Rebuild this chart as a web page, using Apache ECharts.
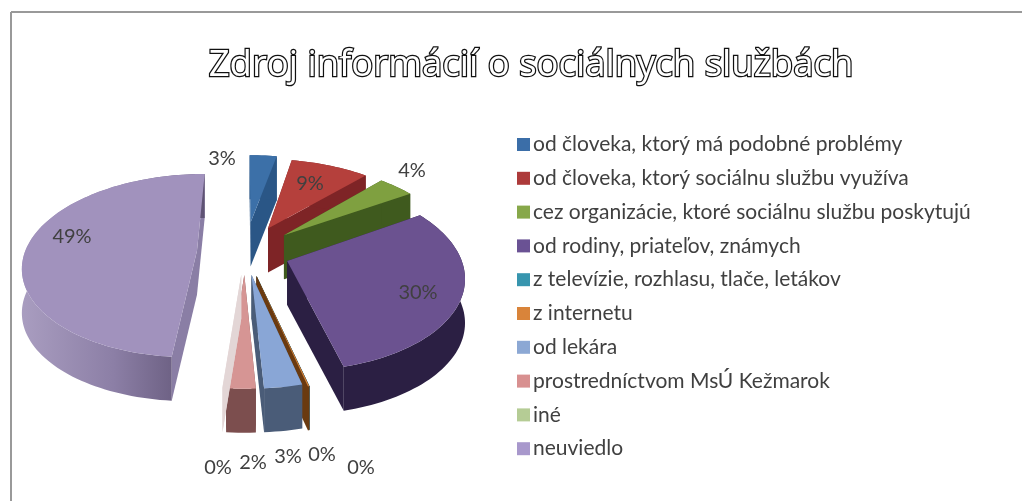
<!DOCTYPE html>
<html>
<head>
<meta charset="utf-8">
<style>html,body{margin:0;padding:0;background:#fff}#main{width:1022px;height:501px}</style>
<script src="https://cdn.jsdelivr.net/npm/echarts@6/dist/echarts.min.js"></script>
</head>
<body>
<div id="main"></div>
<script>
var chartTitle = 'Zdroj informácií o sociálnych službách';
var categories = [
	'od človeka, ktorý má podobné problémy',
	'od človeka, ktorý sociálnu službu využíva',
	'cez organizácie, ktoré sociálnu službu poskytujú',
	'od rodiny, priateľov, známych',
	'z televízie, rozhlasu, tlače, letákov',
	'z internetu',
	'od lekára',
	'prostredníctvom MsÚ Kežmarok',
	'iné',
	'neuviedlo'
];
var shares = [3.2, 9, 4, 29.8, 0.01, 0.1, 3, 2.3, 0.01, 48.6];
var colors = ['#3C70A8', '#B5403C', '#7FA040', '#6B5290', '#3795AE', '#D9843A', '#89A6D6', '#D69594', '#E3D6D6', '#A192BD'];
var legendColors = ['#3B6EA8', '#AD3A3A', '#87A84A', '#6A5294', '#3795AE', '#D9843A', '#8CA8D4', '#D89090', '#B5CC95', '#A898CC'];
var wallColors = ['#2A5686', '#7E2426', '#3F5A1E', '#2B1F43', '#1F5A6A', '#6A3A10', '#4A5C78', '#7C4E4E', '#E3D6D6', '#8A7EA5'];
var explodes = [0.34, 0.3, 0.3, 0.26, 0.26, 0.26, 0.24, 0.24, 0.24, 0.28];
var labelSpots = [[222, 159], [310, 184], [412, 171], [418, 293], [361, 468], [322, 455], [288, 457], [253, 463], [218, 468], [72, 237]];

// tilted disc, drawn by hand because ECharts has no 3d pie without the gl add-on
var pie = {cx: 245, cy: 252, a: 172, b: 92, persp: 0.16, depth: 44};
var total = shares.reduce(function(s, v) { return s + v; }, 0);

function project(x, y) {
	var f = 1 + pie.persp * y;
	return [pie.cx + pie.a * x * f, pie.cy + pie.b * y * f];
}

function lower(p) {
	return [p[0], p[1] + pie.depth];
}

function poly(points, fill) {
	return {type: 'polygon', shape: {points: points}, style: {fill: fill, stroke: null}};
}

function renderSlice(params, api) {
	var from = api.value(0) / total * Math.PI * 2;
	var to = api.value(1) / total * Math.PI * 2;
	var mid = (from + to) / 2;
	var idx = params.seriesIndex;
	var ox = explodes[idx] * Math.sin(mid);
	var oy = -explodes[idx] * Math.cos(mid);
	var tip = project(ox, oy);
	var arc = [];
	var steps = Math.max(2, Math.ceil((to - from) / 0.03));
	for (var i = 0; i <= steps; i++) {
		var t = from + (to - from) * i / steps;
		arc.push(project(ox + Math.sin(t), oy - Math.cos(t)));
	}
	var outerFill = wallColors[idx];
	if (idx === 9) {
		outerFill = new echarts.graphic.LinearGradient(0, 0, 1, 0, [
			{offset: 0, color: '#A99DC0'},
			{offset: 0.5, color: '#8C7FA6'},
			{offset: 1, color: '#5E5273'}
		]);
	}
	var first = arc[0];
	var last = arc[arc.length - 1];
	return {
		type: 'group',
		children: [
			poly([tip, first, lower(first), lower(tip)], wallColors[idx]),
			poly([tip, last, lower(last), lower(tip)], wallColors[idx]),
			poly(arc.concat(arc.map(lower).reverse()), outerFill),
			poly([tip].concat(arc), colors[idx]),
			{
				type: 'text',
				z2: 5,
				style: {
					text: Math.round(api.value(2)) + '%',
					x: labelSpots[idx][0],
					y: labelSpots[idx][1],
					align: 'center',
					verticalAlign: 'middle',
					fill: '#404040',
					font: '20px Lato'
				}
			}
		]
	};
}

var seriesList = [];
var sum = 0;
categories.forEach(function(name, i) {
	seriesList.push({
		name: name,
		type: 'custom',
		coordinateSystem: 'none',
		renderItem: renderSlice,
		animation: false,
		silent: true,
		itemStyle: {color: legendColors[i]},
		data: [[sum, sum + shares[i], shares[i]]]
	});
	sum += shares[i];
});

var myChart = echarts.init(document.getElementById('main'));
myChart.setOption({
	backgroundColor: '#fff',
	animation: false,
	title: {
		text: chartTitle,
		left: 526,
		top: 42,
		textAlign: 'center',
		textStyle: {
			fontFamily: 'Open Sans',
			fontSize: 36.5,
			fontWeight: 'normal',
			color: '#fff',
			textBorderColor: '#111',
			textBorderWidth: 2.5
		}
	},
	legend: {
		orient: 'vertical',
		left: 512,
		top: 129,
		itemWidth: 13,
		itemHeight: 13,
		itemGap: 12.8,
		icon: 'rect',
		selectedMode: false,
		textStyle: {
			fontFamily: 'Lato',
			fontSize: 21,
			color: '#404040',
			padding: [0, 0, 0, -2],
			height: 21,
			lineHeight: 21
		},
		data: categories
	},
	graphic: [
		{type: 'line', shape: {x1: 11, y1: 12, x2: 1022, y2: 12}, style: {stroke: '#999', lineWidth: 2}},
		{type: 'line', shape: {x1: 11, y1: 12, x2: 11, y2: 501}, style: {stroke: '#999', lineWidth: 2}}
	],
	series: seriesList
});
</script>
</body>
</html>
